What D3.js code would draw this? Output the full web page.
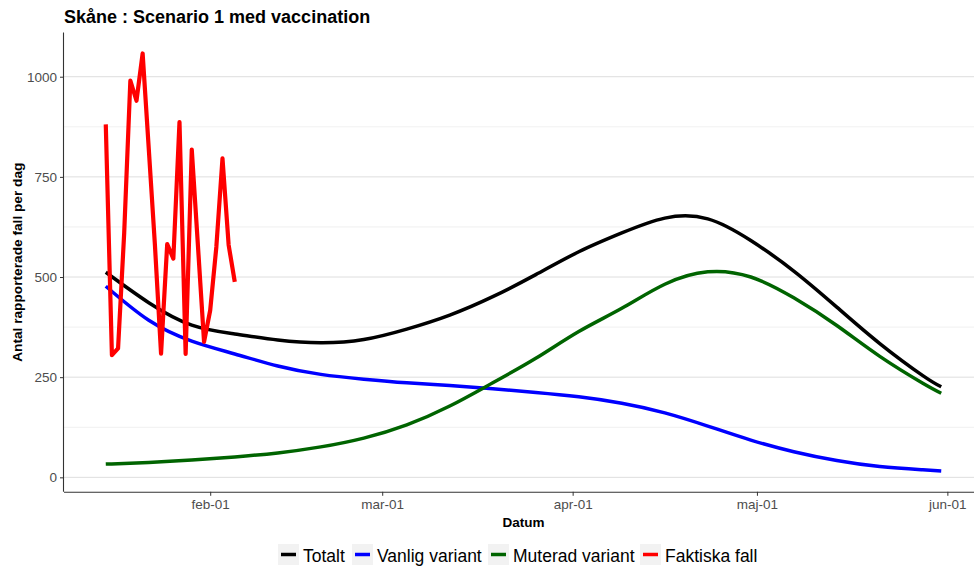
<!doctype html>
<html>
<head>
<meta charset="utf-8">
<title>Skåne : Scenario 1 med vaccination</title>
<style>
  body { margin:0; background:#fff; }
  svg { display:block; font-family:"Liberation Sans", Arial, sans-serif; }
  .grid-major line { stroke:#dedede; stroke-width:1px; }
  .grid-minor line { stroke:#ececec; stroke-width:0.8px; }
  .axis path, .axis line { stroke:#333; }
  .axis text { fill:#4d4d4d; font-size:13.5px; }
</style>
<script src="https://cdn.jsdelivr.net/npm/d3@7"></script>
</head>
<body>
<svg id="chart" width="974" height="567"></svg>
<script>

// data

var title = "Skåne : Scenario 1 med vaccination"
var yTitle = "Antal rapporterade fall per dag"
var xTitle = "Datum"

var seriesNames = ["Totalt", "Vanlig variant", "Muterad variant", "Faktiska fall"]
var seriesColors = ["#000000", "#0000ff", "#006400", "#ff0000"]

// model curves, read every 7 days from 2021-01-15, last point 2021-05-31
var modelDates = ["2021-01-15","2021-01-22","2021-01-29","2021-02-05","2021-02-12","2021-02-19",
  "2021-02-26","2021-03-05","2021-03-12","2021-03-19","2021-03-26","2021-04-02","2021-04-09",
  "2021-04-16","2021-04-23","2021-04-30","2021-05-07","2021-05-14","2021-05-21","2021-05-28","2021-05-31"]
var totalt  = [512,436,380,358,343,336,344,370,405,451,506,563,610,647,645,591,515,425,334,254,226]
var vanlig  = [477,392,340,308,278,257,245,236,229,221,212,201,185,161,128,93,64,42,27,19,16]
var muterad = [33,37,43,51,61,76,98,131,178,236,297,364,422,482,513,500,448,379,302,235,210]

// actual cases, daily from 2021-01-15
var faktiskaStart = "2021-01-15"
var faktiska = [881,305,322,610,990,940,1058,820,580,309,582,546,887,308,818,579,338,417,575,796,580,488]

var xTickDates = ["2021-02-01","2021-03-01","2021-04-01","2021-05-01","2021-06-01"]
var xTickLabels = ["feb-01","mar-01","apr-01","maj-01","jun-01"]
var yTicks = [0,250,500,750,1000]
var yMinorTicks = [125,375,625,875]

// parse

var parse = d3.timeParse("%Y-%m-%d")
var mDates = modelDates.map(parse)
var fDates = faktiska.map(function(d,i){ return d3.timeDay.offset(parse(faktiskaStart), i) })

function pairs(dates, vals) { return vals.map(function(v,i){ return {date:dates[i], value:v} }) }
var lines = [
  {name:seriesNames[0], color:seriesColors[0], width:3.5, curve:d3.curveNatural, values:pairs(mDates, totalt)},
  {name:seriesNames[1], color:seriesColors[1], width:3.5, curve:d3.curveNatural, values:pairs(mDates, vanlig)},
  {name:seriesNames[2], color:seriesColors[2], width:3.5, curve:d3.curveNatural, values:pairs(mDates, muterad)},
  {name:seriesNames[3], color:seriesColors[3], width:4.2, curve:d3.curveLinear, values:pairs(fDates, faktiska)}
]

// scales (5% expansion like ggplot)

var allDates = mDates.concat(fDates)
var allVals = totalt.concat(vanlig, muterad, faktiska)
var t0 = d3.min(allDates).getTime(), t1 = d3.max(allDates).getTime()
var dt = (t1 - t0) * 0.05
var v0 = d3.min(allVals), v1 = d3.max(allVals)
var dv = (v1 - v0) * 0.05

var pLeft = 64, pRight = 983, pTop = 32.6, pBottom = 491.8

var x = d3.scaleTime().domain([new Date(t0 - dt), new Date(t1 + dt)]).range([pLeft, pRight])
var y = d3.scaleLinear().domain([v0 - dv, v1 + dv]).range([pBottom, pTop])

var svg = d3.select("#chart")

// grid

svg.append("g").attr("class","grid-minor")
  .selectAll("line").data(yMinorTicks).enter().append("line")
  .attr("x1", pLeft).attr("x2", pRight)
  .attr("y1", function(d){ return y(d) }).attr("y2", function(d){ return y(d) })

svg.append("g").attr("class","grid-major")
  .selectAll("line").data(yTicks).enter().append("line")
  .attr("x1", pLeft).attr("x2", pRight)
  .attr("y1", function(d){ return y(d) }).attr("y2", function(d){ return y(d) })

// lines

var line = d3.line().x(function(d){ return x(d.date) }).y(function(d){ return y(d.value) })

lines.forEach(function(s){
  svg.append("path")
    .datum(s.values)
    .attr("fill","none")
    .attr("stroke", s.color)
    .attr("stroke-width", s.width)
    .attr("stroke-linejoin","round")
    .attr("d", line.curve(s.curve))
})

// axes

var xAxis = d3.axisBottom(x)
  .tickValues(xTickDates.map(parse))
  .tickFormat(function(d,i){ return xTickLabels[i] })
  .tickSize(4).tickPadding(4)
svg.append("g").attr("class","axis")
  .attr("transform","translate(0," + pBottom + ")")
  .call(xAxis)
  .call(function(g){ g.select(".domain").attr("d", "M" + pLeft + ",0.5H" + pRight).attr("stroke","#000").attr("stroke-width",1.1) })

var yAxis = d3.axisLeft(y).tickValues(yTicks).tickFormat(d3.format("d")).tickSize(4).tickPadding(3)
svg.append("g").attr("class","axis")
  .attr("transform","translate(" + pLeft + ",0)")
  .call(yAxis)
  .call(function(g){ g.select(".domain").attr("d", "M-0.5," + pBottom + "V" + pTop).attr("stroke","#000").attr("stroke-width",1.1) })

svg.selectAll(".axis text").attr("font-family", null)

// titles

svg.append("text")
  .attr("x", pLeft).attr("y", 23)
  .attr("font-size", "18px").attr("font-weight", "bold")
  .text(title)

svg.append("text")
  .attr("x", (pLeft + pRight) / 2).attr("y", 527)
  .attr("text-anchor","middle")
  .attr("font-size","13.5px").attr("font-weight","bold")
  .text(xTitle)

svg.append("text")
  .attr("transform","translate(22," + ((pTop + pBottom) / 2) + ") rotate(-90)")
  .attr("text-anchor","middle")
  .attr("font-size","13.7px").attr("font-weight","bold")
  .text(yTitle)

// legend

var legendX = [278, 352, 488, 640]
var legend = svg.append("g").selectAll("g").data(lines).enter().append("g")
  .attr("transform", function(d,i){ return "translate(" + legendX[i] + ",544)" })

legend.append("rect")
  .attr("width", 21).attr("height", 21)
  .attr("fill", "#f2f2f2")

legend.append("line")
  .attr("x1", 3).attr("x2", 18).attr("y1", 10.5).attr("y2", 10.5)
  .attr("stroke", function(d){ return d.color })
  .attr("stroke-width", 3.5)

legend.append("text")
  .attr("x", 25).attr("y", 17.5)
  .attr("font-size", "17.5px")
  .text(function(d){ return d.name })

</script>
</body>
</html>
